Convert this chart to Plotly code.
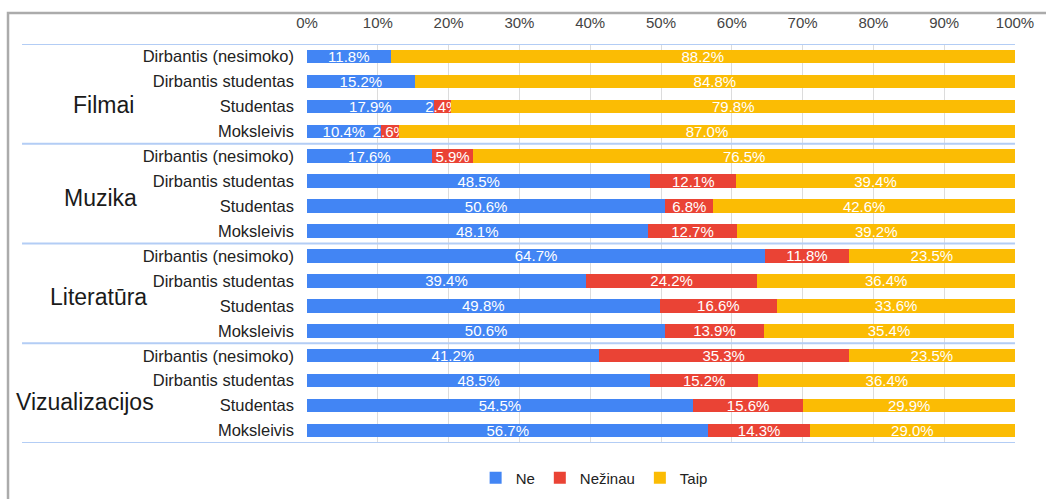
import plotly.graph_objects as go

groups = ["Filmai", "Muzika", "Literatūra", "Vizualizacijos"]
subgroups = ["Dirbantis (nesimoko)", "Dirbantis studentas", "Studentas", "Moksleivis"]
series_names = ["Ne", "Nežinau", "Taip"]

ne = [11.8, 15.2, 17.9, 10.4,
      17.6, 48.5, 50.6, 48.1,
      64.7, 39.4, 49.8, 50.6,
      41.2, 48.5, 54.5, 56.7]
nezinau = [0.0, 0.0, 2.4, 2.6,
           5.9, 12.1, 6.8, 12.7,
           11.8, 24.2, 16.6, 13.9,
           35.3, 15.2, 15.6, 14.3]
taip = [88.2, 84.8, 79.8, 87.0,
        76.5, 39.4, 42.6, 39.2,
        23.5, 36.4, 33.6, 35.4,
        23.5, 36.4, 29.9, 29.0]

x_ticks = [0, 10, 20, 30, 40, 50, 60, 70, 80, 90, 100]
x_tick_labels = [f"{t}%" for t in x_ticks]

colors = ["#4285F4", "#EA4335", "#FBBC04"]
FONT = "Liberation Sans, Arial, sans-serif"

row_labels = [s for g in groups for s in subgroups]
rows = list(range(len(row_labels)))

fig = go.Figure()
for name, vals, col in zip(series_names, [ne, nezinau, taip], colors):
    fig.add_trace(go.Bar(
        y=rows, x=vals, orientation="h", name=name,
        marker=dict(color=col, line=dict(width=0)),
        text=[f"{v:.1f}%" if v > 0 else "" for v in vals],
        textposition="inside", insidetextanchor="middle",
        constraintext="none",
        textfont=dict(color="white", size=15, family=FONT),
        width=0.54,
        hoverinfo="skip",
    ))

# group separators
n_per = len(subgroups)
for k in range(len(groups) + 1):
    yy = k * n_per - 0.5
    fig.add_shape(type="line", xref="paper", yref="y", x0=-0.4025, x1=1.0,
                  y0=yy, y1=yy, line=dict(color="#b3cdf5", width=2), layer="above")

# outer frame
fig.add_shape(type="rect", xref="paper", yref="paper", x0=-0.4223, x1=1.3,
              y0=-0.4, y1=1.0777, line=dict(color="#ababab", width=2.5), layer="below")

group_x = [-0.288, -0.292, -0.295, -0.3136]
group_dy = [1.95, 1.68, 1.66, 1.84]
for g, (name, gx, gy) in enumerate(zip(groups, group_x, group_dy)):
    fig.add_annotation(text=name, xref="paper", yref="y", x=gx, y=g * n_per + gy,
                       xanchor="center", yanchor="middle", showarrow=False,
                       font=dict(size=23, color="#1a1a1a", family=FONT))

fig.update_layout(
    width=1046, height=499,
    margin=dict(l=307, r=31, t=44, b=56, autoexpand=False),
    barmode="stack",
    plot_bgcolor="white", paper_bgcolor="white",
    font=dict(family=FONT, color="#333333"),
    xaxis=dict(side="top", range=[0, 100], tickvals=x_ticks, ticktext=x_tick_labels,
               showgrid=True, gridcolor="#dcdcdc", gridwidth=1, zeroline=False,
               showline=False, ticks="", ticklabelstandoff=12, automargin=False,
               tickfont=dict(size=15, color="#444444")),
    yaxis=dict(range=[len(rows) - 0.5, -0.5], tickvals=rows, ticktext=row_labels,
               showgrid=False, zeroline=False, showline=False, ticks="",
               ticklabelstandoff=12, automargin=False,
               tickfont=dict(size=16.5, color="#222222")),
    legend=dict(orientation="h", xref="container", yref="container",
                x=0.568, y=0.042, xanchor="center", yanchor="middle",
                font=dict(size=15, color="#222222"), traceorder="normal"),
    showlegend=True,
)

fig.write_html("out.html", config={"displayModeBar": False},
               post_script="document.body.style.margin='0';")
